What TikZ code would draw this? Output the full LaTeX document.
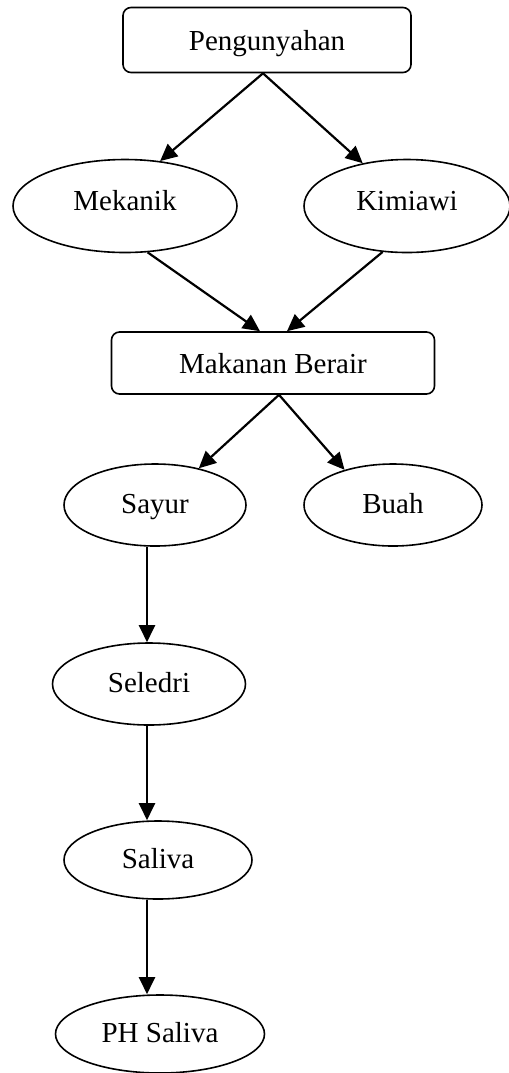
\documentclass[tikz,border=0pt]{standalone}
\usepackage{fontspec}
\setmainfont{Liberation Serif}
\usepackage{tikz}
\usetikzlibrary{shapes.geometric, arrows.meta}

\begin{document}
\begin{tikzpicture}[x=0.5pt, y=-0.5pt,
  every node/.style={font=\fontsize{14.5}{17}\selectfont, text height=11pt, text depth=3pt},
  kotak/.style={draw, line width=0.8pt, rounded corners=4pt, inner sep=0pt, text depth=1pt},
  elips/.style={draw, line width=0.8pt, ellipse, inner sep=0pt},
  panah/.style={line width=1.1pt, -{Triangle[length=8.5pt,width=8pt]}}]
\useasboundingbox (0,0) rectangle (509,1073);
\node[kotak, minimum width=144pt, minimum height=32.5pt] (peng) at (267,40) {Pengunyahan};
\node[elips, minimum width=112pt, minimum height=46.5pt, text depth=7pt] (mekanik) at (125,206) {Mekanik};
\node[elips, minimum width=103pt, minimum height=46.5pt, text depth=7pt] (kimia) at (407,206) {Kimiawi};
\node[kotak, minimum width=161.5pt, minimum height=31pt] (makanan) at (273,363) {Makanan Berair};
\node[elips, minimum width=91pt, minimum height=41pt] (sayur) at (155,505) {Sayur};
\node[elips, minimum width=89pt, minimum height=41pt] (buah) at (393,505) {Buah};
\node[elips, minimum width=96.5pt, minimum height=41pt] (seledri) at (149,684) {Seledri};
\node[elips, minimum width=94pt, minimum height=39pt] (saliva) at (158,860) {Saliva};
\node[elips, minimum width=104.5pt, minimum height=39pt] (ph) at (160,1034) {PH Saliva};

\draw[panah] ([xshift=-2pt]peng.south) -- (mekanik.52);
\draw[panah] ([xshift=-2pt]peng.south) -- (kimia.136);
\draw[panah] (mekanik.-64) -- ([xshift=-6.5pt]makanan.north);
\draw[panah] (kimia.-118) -- ([xshift=7pt]makanan.north);
\draw[panah] ([xshift=3pt]makanan.south) -- (sayur.40);
\draw[panah] ([xshift=3pt]makanan.south) -- (buah.144);
\draw[panah] ([xshift=-4pt]sayur.south) -- ([xshift=-1pt]seledri.north);
\draw[panah] ([xshift=-1pt]seledri.south) -- ([xshift=-5.5pt]saliva.north);
\draw[panah] ([xshift=-5.5pt]saliva.south) -- ([xshift=-6.5pt]ph.north);
\end{tikzpicture}
\end{document}
